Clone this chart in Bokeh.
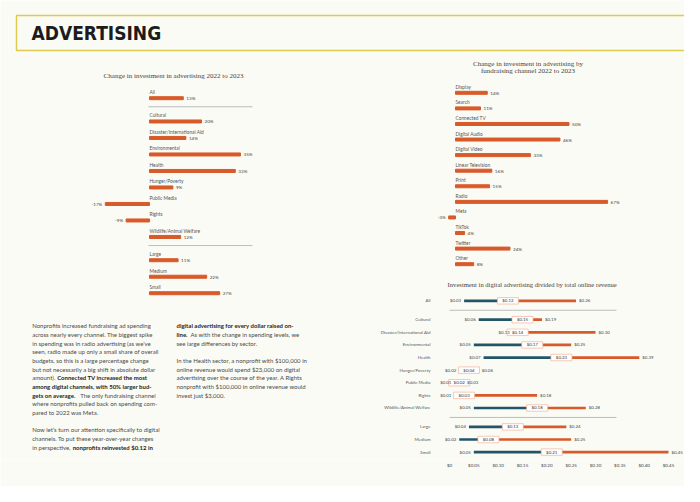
from bokeh.plotting import figure
from bokeh.models import Range1d, LinearAxis, FixedTicker, CustomJSTickFormatter, Label
from bokeh.core.properties import value
from bokeh.embed import file_html
from bokeh.resources import INLINE

# ---------------- data ----------------
sector_categories = ["All", "Cultural", "Disaster/International Aid", "Environmental", "Health",
                     "Hunger/Poverty", "Public Media", "Rights", "Wildlife/Animal Welfare",
                     "Large", "Medium", "Small"]
sector_groups = [0, 1, 1, 1, 1, 1, 1, 1, 1, 2, 2, 2]
sector_change_pct = [13, 20, 14, 35, 33, 9, -17, -9, 12, 11, 22, 27]

channel_categories = ["Display", "Search", "Connected TV", "Digital Audio", "Digital Video",
                      "Linear Television", "Print", "Radio", "Meta", "TikTok", "Twitter", "Other"]
channel_change_pct = [14, 11, 50, 46, 33, 16, 15, 67, -3, 4, 24, 8]

ratio_low = [0.03, 0.06, 0.13, 0.05, 0.07, 0.02, 0.01, 0.01, 0.05, 0.04, 0.02, 0.05]
ratio_median = [0.12, 0.15, 0.14, 0.17, 0.23, 0.04, 0.02, 0.03, 0.18, 0.13, 0.08, 0.21]
ratio_high = [0.26, 0.19, 0.30, 0.25, 0.39, 0.06, 0.03, 0.18, 0.28, 0.24, 0.25, 0.45]
ratio_ticks = [0, 0.05, 0.10, 0.15, 0.20, 0.25, 0.30, 0.35, 0.40, 0.45]

title_left = "Change in investment in advertising 2022 to 2023"
title_right = ["Change in investment in advertising by", "fundraising channel 2022 to 2023"]
title_bottom = "Investment in digital advertising divided by total online revenue"

# body text: each line is a list of (run start offset, text, bold)
col1_lines = [
    [(0, "Nonprofits increased fundraising ad spending", False)],
    [(0, "across nearly every channel. The biggest spike", False)],
    [(0, "in spending was in radio advertising (as we\u2019ve", False)],
    [(0, "seen, radio made up only a small share of overall", False)],
    [(0, "budgets, so this is a large percentage change", False)],
    [(0, "but not necessarily a big shift in absolute dollar", False)],
    [(0, "amount).", False), (25, "Connected TV increased the most", True)],
    [(0, "among digital channels, with 50% larger bud-", True)],
    [(0, "gets on average.", True), (48, "The only fundraising channel", False)],
    [(0, "where nonprofits pulled back on spending com-", False)],
    [(0, "pared to 2022 was Meta.", False)],
    [],
    [(0, "Now let\u2019s turn our attention specifically to digital", False)],
    [(0, "channels. To put these year-over-year changes", False)],
    [(0, "in perspective,", False), (40.5, "nonprofits reinvested $0.12 in", True)],
]
col2_lines = [
    [(0, "digital advertising for every dollar raised on-", True)],
    [(0, "line.", True), (14, "As with the change in spending levels, we", False)],
    [(0, "see large differences by sector.", False)],
    [],
    [(0, "In the Health sector, a nonprofit with $100,000 in", False)],
    [(0, "online revenue would spend $23,000 on digital", False)],
    [(0, "advertising over the course of the year. A Rights", False)],
    [(0, "nonprofit with $100,000 in online revenue would", False)],
    [(0, "invest just $3,000.", False)],
]

# ---------------- style ----------------
BG = "#fbfbf5"
ORANGE = "#d85a2a"
TEAL = "#245468"
YELLOW = "#dccb50"
GRID = "#bdbdbd"
SANS = value("Lato")
SERIF = value("Liberation Serif")

W, H = 684, 486
FX0, FX1 = 0, W          # frame extent in page pixels
FY0, FY1 = 0, 459


def x_scale(zero_px, px_per_unit):
    return Range1d((FX0 - zero_px) / px_per_unit, (FX1 - zero_px) / px_per_unit)


def y_scale(first_px, px_per_slot):
    return Range1d((FY1 - first_px) / px_per_slot, (FY0 - first_px) / px_per_slot)


p = figure(width=W, height=H, x_range=Range1d(FX0, FX1), y_range=Range1d(FY1, FY0),
           x_axis_type=None, y_axis_type=None, output_backend="svg", toolbar_location=None,
           min_border_left=0, min_border_right=0, min_border_top=0, min_border_bottom=H - FY1,
           background_fill_color=BG, border_fill_color=BG, outline_line_color=None)

p.extra_x_ranges = {"lx": x_scale(149, 2.6), "rx": x_scale(455, 2.27), "dx": x_scale(449, 486.7)}
p.extra_y_ranges = {"ly": y_scale(97.7, 16.5), "ry": y_scale(92.3, 15.58), "dy": y_scale(300.3, 12.61)}

# ---------------- header ----------------
p.quad(left=16, right=FX1 + 20, top=15, bottom=50, fill_color=None, line_color=YELLOW, line_width=1.5)
p.text(x=[31], y=[32], text=["ADVERTISING"],
       text_font=value("DejaVu Sans Condensed, Liberation Sans, sans-serif"),
       text_font_style="bold", text_font_size="19px", text_baseline="middle", text_color="#1c1c1c")

# ---------------- left chart ----------------
left_gap = 0.41
left_slots = [i + left_gap * g for i, g in enumerate(sector_groups)]
p.text(x=[173], y=[75], text=[title_left], text_font=SERIF, text_font_size="7px",
       text_align="center", text_baseline="middle", text_color="#444444")
p.hbar(y=left_slots, left=0, right=sector_change_pct, height=3 / 16.5, color=ORANGE,
       x_range_name="lx", y_range_name="ly")
p.text(x=[0] * len(left_slots), y=left_slots, text=sector_categories, y_offset=-6,
       text_font=SANS, text_font_size="4.8px", text_baseline="middle", text_color="#555555",
       x_range_name="lx", y_range_name="ly")
p.text(x=sector_change_pct, y=left_slots, text=[f"{v}%" for v in sector_change_pct],
       x_offset=[3 if v >= 0 else -3 for v in sector_change_pct],
       text_align=["left" if v >= 0 else "right" for v in sector_change_pct],
       text_font=SANS, text_font_size="4.6px", text_baseline="middle", text_color="#444444",
       x_range_name="lx", y_range_name="ly")
left_seps = [left_slots[i] + 0.52 for i in range(len(sector_groups) - 1)
             if sector_groups[i] != sector_groups[i + 1]]
p.segment(x0=148, x1=252, y0=left_seps, y1=left_seps, line_color=GRID, line_width=1,
          y_range_name="ly")

# ---------------- right top chart ----------------
ch_slots = list(range(len(channel_categories)))
p.text(x=[527.5, 527.5], y=[63.3, 70.8], text=title_right, text_font=SERIF, text_font_size="7px",
       text_align="center", text_baseline="middle", text_color="#444444")
p.hbar(y=ch_slots, left=0, right=channel_change_pct, height=3 / 15.58, color=ORANGE,
       x_range_name="rx", y_range_name="ry")
p.text(x=[0] * len(ch_slots), y=ch_slots, text=channel_categories, y_offset=-6,
       text_font=SANS, text_font_size="4.8px", text_baseline="middle", text_color="#555555",
       x_range_name="rx", y_range_name="ry")
p.text(x=channel_change_pct, y=ch_slots, text=[f"{v}%" for v in channel_change_pct],
       x_offset=[3 if v >= 0 else -3 for v in channel_change_pct],
       text_align=["left" if v >= 0 else "right" for v in channel_change_pct],
       text_font=SANS, text_font_size="4.6px", text_baseline="middle", text_color="#444444",
       x_range_name="rx", y_range_name="ry")

# ---------------- bottom right dumbbell ----------------
d_gap = 0.5
d_slots = [i + d_gap * g for i, g in enumerate(sector_groups)]
p.text(x=[531.7], y=[284], text=[title_bottom], text_font=SERIF, text_font_size="6.6px",
       text_align="center", text_baseline="middle", text_color="#444444")
d_seps = [d_slots[i] + 0.75 for i in range(len(sector_groups) - 1)
          if sector_groups[i] != sector_groups[i + 1]]
p.segment(x0=449, x1=616, y0=d_seps, y1=d_seps, line_color=GRID, line_width=1, y_range_name="dy")
p.segment(x0=ratio_low, x1=ratio_median, y0=d_slots, y1=d_slots, line_color=TEAL, line_width=2.7,
          x_range_name="dx", y_range_name="dy")
p.segment(x0=ratio_median, x1=ratio_high, y0=d_slots, y1=d_slots, line_color=ORANGE, line_width=2.7,
          x_range_name="dx", y_range_name="dy")
p.rect(x=ratio_median, y=d_slots, width=21, height=6.5, width_units="screen", height_units="screen",
       fill_color="#ffffff", line_color="#efb49a", line_width=0.7,
       x_range_name="dx", y_range_name="dy")
p.text(x=ratio_median, y=d_slots, text=[f"${v:.2f}" for v in ratio_median], text_align="center",
       text_font=SANS, text_font_size="4.4px", text_baseline="middle", text_color="#333333",
       x_range_name="dx", y_range_name="dy")
p.text(x=ratio_low, y=d_slots, text=[f"${v:.2f}" for v in ratio_low], x_offset=-3, text_align="right",
       text_font=SANS, text_font_size="4.4px", text_baseline="middle", text_color="#444444",
       x_range_name="dx", y_range_name="dy")
p.text(x=ratio_high, y=d_slots, text=[f"${v:.2f}" for v in ratio_high], x_offset=3, text_align="left",
       text_font=SANS, text_font_size="4.4px", text_baseline="middle", text_color="#444444",
       x_range_name="dx", y_range_name="dy")
p.text(x=[430] * len(d_slots), y=d_slots, text=sector_categories, text_align="right",
       text_font=SANS, text_font_size="4.4px", text_baseline="middle", text_color="#555555",
       y_range_name="dy")

axis = LinearAxis(x_range_name="dx", ticker=FixedTicker(ticks=ratio_ticks),
                  formatter=CustomJSTickFormatter(code="return tick == 0 ? '$0' : '$' + tick.toFixed(2);"))
axis.axis_line_color = None
axis.major_tick_line_color = None
axis.minor_tick_line_color = None
axis.major_tick_out = 0
axis.major_label_standoff = 3
axis.major_label_text_font = "Lato"
axis.major_label_text_font_size = "4.5px"
axis.major_label_text_color = "#444444"
p.add_layout(axis, "below")

# ---------------- body text ----------------
def draw_column(lines, x0, y0, step):
    nx, ny, nt, bx, by, bt = [], [], [], [], [], []
    for k, runs in enumerate(lines):
        for dx, txt, bold in runs:
            if bold:
                bx.append(x0 + dx); by.append(y0 + k * step); bt.append(txt)
            else:
                nx.append(x0 + dx); ny.append(y0 + k * step); nt.append(txt)
    p.text(x=nx, y=ny, text=nt, text_font=SANS, text_font_size="6px", text_baseline="middle",
           text_color="#4a4a4a")
    p.text(x=bx, y=by, text=bt, text_font=SANS, text_font_size="6px", text_font_style="bold",
           text_baseline="middle", text_color="#1e1e1e")


draw_column(col1_lines, 31.7, 325.3, 8.67)
draw_column(col2_lines, 176, 325.3, 8.67)

# ---------------- page numbers ----------------
for xx, tt in [(13, "48"), (678, "49")]:
    p.add_layout(Label(x=xx, y=480, text=tt, text_font="Lato", text_font_size="5px",
                       text_font_style="bold", text_color="#333333", text_align="center",
                       text_baseline="middle"))

open("out.html", "w").write(file_html(p, INLINE))
